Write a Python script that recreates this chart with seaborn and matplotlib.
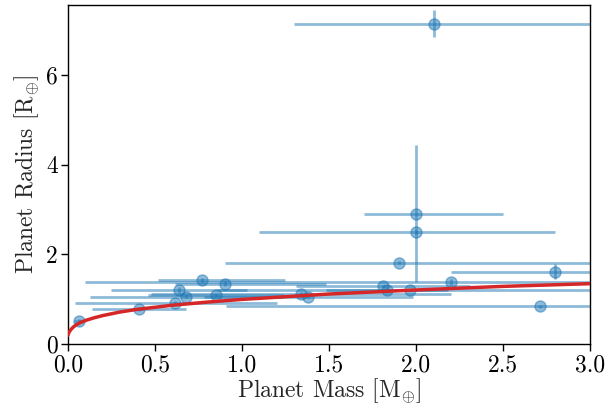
import numpy as np
import pandas as pd
import matplotlib
matplotlib.use('Agg')
import matplotlib.pyplot as plt
import seaborn as sns

# planet masses / radii with (asymmetric) mass errors
mass = [0.065, 0.41, 0.615, 0.64, 0.68, 0.77, 0.85, 0.90, 1.34, 1.38,
        1.81, 1.835, 1.965, 2.20, 1.90, 2.00, 2.00, 2.10, 2.80, 2.71]
radius = [0.53, 0.78, 0.93, 1.21, 1.06, 1.43, 1.10, 1.35, 1.13, 1.06,
          1.30, 1.22, 1.21, 1.39, 1.82, 2.91, 2.50, 7.13, 1.62, 0.85]
mass_err_lo = [0.03, 0.27, 0.575, 0.39, 0.55, 0.25, 0.39, 0.285, 0.86, 0.60,
               0.50, 0.35, 1.10, 2.10, 1.00, 0.30, 0.90, 0.80, 0.60, 1.80]
mass_err_hi = [0.03, 0.27, 0.585, 0.39, 0.55, 0.48, 0.39, 0.58, 0.86, 0.60,
               0.50, 0.35, 1.10, 2.10, 1.20, 0.50, 0.80, 1.00, 0.60, 1.80]
radius_err = [0.03, 0.03, 0.03, 0.06, 0.03, 0.05, 0.03, 0.05, 0.03, 0.03,
              0.03, 0.03, 0.03, 0.06, 0.03, 1.53, 0.05, 0.30, 0.17, 0.03]

# mass-radius relation curve
curve_mass = [0.0, 0.005, 0.01, 0.02, 0.03, 0.05, 0.07, 0.1, 0.15, 0.2, 0.3, 0.4,
              0.6, 0.8, 1.0, 1.25, 1.5, 2.0, 2.5, 3.0]
curve_radius = [0.2, 0.25, 0.29, 0.34, 0.38, 0.44, 0.48, 0.53, 0.59, 0.64, 0.72, 0.78,
                0.87, 0.94, 1.00, 1.06, 1.12, 1.21, 1.29, 1.35]

sns.set_style('ticks')
plt.rcParams['font.family'] = 'serif'
plt.rcParams['font.serif'] = ['cmr10', 'DejaVu Serif']
plt.rcParams['mathtext.fontset'] = 'cm'
plt.rcParams['axes.unicode_minus'] = False
plt.rcParams['axes.formatter.use_mathtext'] = True

fig, ax = plt.subplots(figsize=(6.11, 4.09), dpi=100)

ax.errorbar(mass, radius, xerr=[mass_err_lo, mass_err_hi], yerr=radius_err,
            fmt='o', color='C0', alpha=0.5, markersize=8, elinewidth=2,
            capsize=0, zorder=2)

curve = pd.DataFrame({'mass': curve_mass, 'radius': curve_radius})
sns.lineplot(data=curve, x='mass', y='radius', color='#d62728', linewidth=2.5,
             ax=ax, zorder=3)

ax.set_xlim(0, 3.0)
ax.set_ylim(0, 7.55)
ax.set_xticks([0.0, 0.5, 1.0, 1.5, 2.0, 2.5, 3.0])
ax.set_xticklabels(['0.0', '0.5', '1.0', '1.5', '2.0', '2.5', '3.0'])
ax.set_yticks([0, 2, 4, 6])
ax.set_yticklabels(['0', '2', '4', '6'])
ax.tick_params(labelsize=17, length=5, width=1, colors='black', pad=2)
for s in ax.spines.values():
    s.set_color('black')
    s.set_linewidth(1)

ax.set_xlabel(r'Planet Mass [M$_{\oplus}$]', fontsize=17, labelpad=0)
ax.set_ylabel(r'Planet Radius [R$_{\oplus}$]', fontsize=17, labelpad=4)

plt.subplots_adjust(left=0.111, right=0.966, top=0.988, bottom=0.158)
plt.savefig('out.png', dpi=100)
